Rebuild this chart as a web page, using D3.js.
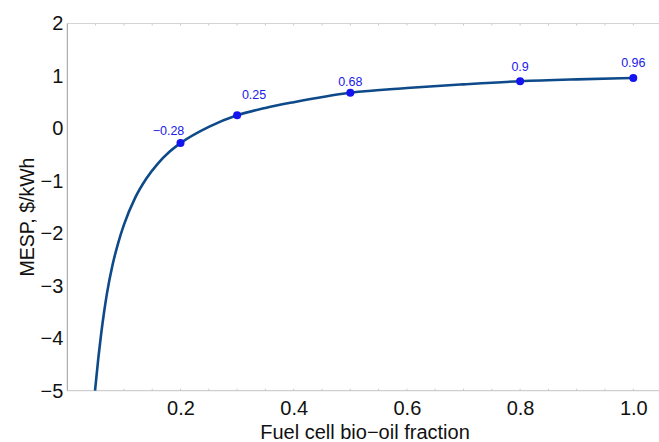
<!DOCTYPE html>
<html>
<head>
<meta charset="utf-8">
<script src="https://cdn.jsdelivr.net/npm/d3@7"></script>
<style>
  body { margin: 0; background: #fff; }
  svg { display: block; font-family: "Liberation Sans", Arial, sans-serif; }
</style>
</head>
<body>
<svg></svg>
<script>
// curve
var curveX = [0.049, 0.055, 0.06, 0.065, 0.07, 0.08, 0.09, 0.1, 0.12, 0.14, 0.16, 0.18, 0.2,
              0.25, 0.3, 0.35, 0.4, 0.5, 0.6, 0.7, 0.8, 0.9, 1.0];
var curveY = [-5.0, -4.36, -3.9, -3.5, -3.15, -2.6, -2.18, -1.84, -1.32, -0.95, -0.67, -0.45, -0.28,
              0.03, 0.25, 0.39, 0.5, 0.68, 0.77, 0.84, 0.9, 0.935, 0.96];

// labelled points
var pointX = [0.2, 0.3, 0.5, 0.8, 1.0];
var pointY = [-0.28, 0.25, 0.68, 0.9, 0.96];
var pointLabels = ["\u22120.28", "0.25", "0.68", "0.9", "0.96"];

var xTicks = [0.2, 0.4, 0.6, 0.8, 1.0];
var yTicks = [2, 1, 0, -1, -2, -3, -4, -5];

var width = 659, height = 442;

var svg = d3.select('svg')
  .attr('width', width)
  .attr('height', height);

var x = d3.scaleLinear().domain([0, 1]).range([67.3, 633.3]);
var y = d3.scaleLinear().domain([-5, 2]).range([390.7, 23.5]);

// frame lines
svg.append('line')
  .attr('x1', x(0)).attr('x2', width)
  .attr('y1', y(2)).attr('y2', y(2))
  .attr('stroke', '#d4d4d4').attr('stroke-width', 1);
svg.append('line')
  .attr('x1', x(0)).attr('x2', width)
  .attr('y1', y(-5)).attr('y2', y(-5))
  .attr('stroke', '#c4c4c4').attr('stroke-width', 1);
svg.append('line')
  .attr('x1', x(0)).attr('x2', x(0))
  .attr('y1', y(2)).attr('y2', y(-5))
  .attr('stroke', '#9a9a9a').attr('stroke-width', 1);

// small ticks on bottom and top
var minor = d3.range(0.05, 1.1, 0.05);
svg.append('g').selectAll('line.bt')
  .data(minor).enter().append('line')
  .attr('x1', d => x(d)).attr('x2', d => x(d))
  .attr('y1', y(-5)).attr('y2', y(-5) - 2)
  .attr('stroke', '#c8c8c8');
svg.append('g').selectAll('line.tt')
  .data(minor).enter().append('line')
  .attr('x1', d => x(d)).attr('x2', d => x(d))
  .attr('y1', y(2)).attr('y2', y(2) + 2)
  .attr('stroke', '#c8c8c8');

// axes (labels only, lines drawn above)
var xAxis = d3.axisBottom(x).tickValues(xTicks).tickFormat(d3.format('.1f')).tickSize(0).tickPadding(10);
var gx = svg.append('g')
  .attr('transform', 'translate(0,' + y(-5) + ')')
  .call(xAxis);
gx.select('.domain').remove();
gx.selectAll('text').attr('font-size', 20).attr('fill', '#111')
  .style('font-family', '"Liberation Sans", Arial, sans-serif');

var yAxis = d3.axisLeft(y).tickValues(yTicks).tickFormat(d3.format('d')).tickSize(0).tickPadding(4);
var gy = svg.append('g')
  .attr('transform', 'translate(' + x(0) + ',0)')
  .call(yAxis);
gy.select('.domain').remove();
gy.selectAll('text').attr('font-size', 20).attr('fill', '#111')
  .style('font-family', '"Liberation Sans", Arial, sans-serif');

// axis titles
svg.append('text')
  .attr('x', 365).attr('y', 439)
  .attr('text-anchor', 'middle')
  .attr('font-size', 20).attr('fill', '#111')
  .text('Fuel cell bio\u2212oil fraction');

svg.append('text')
  .attr('transform', 'translate(34,217) rotate(-90)')
  .attr('text-anchor', 'middle')
  .attr('font-size', 19.5).attr('fill', '#111')
  .text('MESP, $/kWh');

// curve
var curveData = curveX.map((d, i) => [d, curveY[i]]);
var line = d3.line()
  .x(d => x(d[0]))
  .y(d => y(d[1]))
  .curve(d3.curveMonotoneX);

svg.append('path')
  .datum(curveData)
  .attr('d', line)
  .attr('fill', 'none')
  .attr('stroke', '#0e4a8a')
  .attr('stroke-width', 2.6);

// points + labels
var pts = pointX.map((d, i) => ({x: d, y: pointY[i], label: pointLabels[i]}));
var labelOffsets = [[-12, -8], [17, -16], [0, -7], [0, -10], [0, -11]];

svg.selectAll('circle.pt')
  .data(pts).enter().append('circle')
  .attr('cx', d => x(d.x))
  .attr('cy', d => y(d.y))
  .attr('r', 4)
  .attr('fill', '#1414f0');

svg.selectAll('text.lbl')
  .data(pts).enter().append('text')
  .attr('x', (d, i) => x(d.x) + labelOffsets[i][0])
  .attr('y', (d, i) => y(d.y) + labelOffsets[i][1])
  .attr('text-anchor', 'middle')
  .attr('font-size', 12.5)
  .attr('fill', '#2020e8')
  .text(d => d.label);
</script>
</body>
</html>
